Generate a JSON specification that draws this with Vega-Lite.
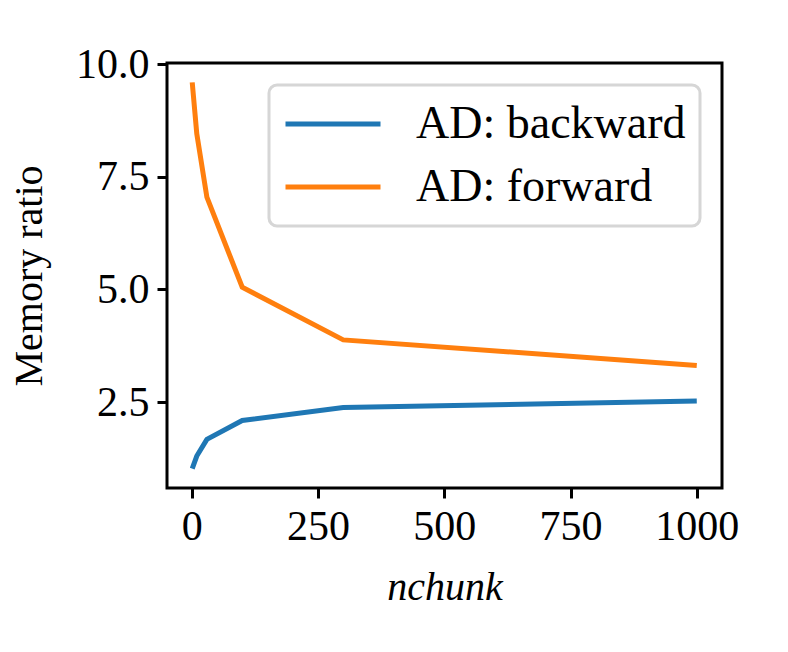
{
  "$schema": "https://vega.github.io/schema/vega-lite/v6.json",
  "width": 555,
  "height": 425,
  "autosize": {"type": "none"},
  "padding": {"left": 167, "top": 63, "right": 66, "bottom": 164},
  "background": "white",
  "data": {
    "values": [
      {"n": 1, "ratio": 1.02, "method": "AD: backward"},
      {"n": 10, "ratio": 1.3, "method": "AD: backward"},
      {"n": 30, "ratio": 1.67, "method": "AD: backward"},
      {"n": 100, "ratio": 2.09, "method": "AD: backward"},
      {"n": 300, "ratio": 2.38, "method": "AD: backward"},
      {"n": 1000, "ratio": 2.52, "method": "AD: backward"},
      {"n": 1, "ratio": 9.6, "method": "AD: forward"},
      {"n": 10, "ratio": 8.46, "method": "AD: forward"},
      {"n": 30, "ratio": 7.05, "method": "AD: forward"},
      {"n": 100, "ratio": 5.05, "method": "AD: forward"},
      {"n": 300, "ratio": 3.88, "method": "AD: forward"},
      {"n": 1000, "ratio": 3.31, "method": "AD: forward"}
    ]
  },
  "mark": {"type": "line", "strokeWidth": 5, "clip": true},
  "encoding": {
    "x": {
      "field": "n",
      "type": "quantitative",
      "scale": {"domain": [-48.95, 1049.95], "nice": false, "zero": false},
      "axis": {
        "values": [0, 250, 500, 750, 1000],
        "format": "d",
        "title": "nchunk",
        "titleFontStyle": "italic",
        "titlePadding": 20
      }
    },
    "y": {
      "field": "ratio",
      "type": "quantitative",
      "scale": {"domain": [0.59, 10.03], "nice": false, "zero": false},
      "axis": {
        "values": [2.5, 5, 7.5, 10],
        "format": ".1f",
        "title": "Memory ratio",
        "titlePadding": 26
      }
    },
    "color": {
      "field": "method",
      "type": "nominal",
      "scale": {"domain": ["AD: backward", "AD: forward"], "range": ["#1f77b4", "#ff7f0e"]},
      "legend": {
        "title": null,
        "orient": "top-right",
        "offset": 22,
        "symbolType": "M-1,0H1",
        "symbolSize": 9025,
        "symbolStrokeWidth": 5,
        "labelFontSize": 46,
        "labelFont": "Liberation Serif",
        "labelColor": "black",
        "labelOffset": 33,
        "labelLimit": 500,
        "clipHeight": 50,
        "rowPadding": 13,
        "padding": 14,
        "strokeColor": "#d6d6d6",
        "cornerRadius": 8,
        "fillColor": "white"
      }
    }
  },
  "config": {
    "view": {"stroke": "black", "strokeWidth": 3},
    "legend": {"strokeWidth": 3},
    "axis": {
      "domain": false,
      "grid": false,
      "ticks": true,
      "tickSize": 10,
      "tickWidth": 3,
      "tickColor": "black",
      "labelFont": "Liberation Serif",
      "labelFontSize": 42,
      "labelColor": "black",
      "labelPadding": 8,
      "titleFont": "Liberation Serif",
      "titleFontSize": 40,
      "titleFontWeight": "normal",
      "titleColor": "black"
    }
  }
}
